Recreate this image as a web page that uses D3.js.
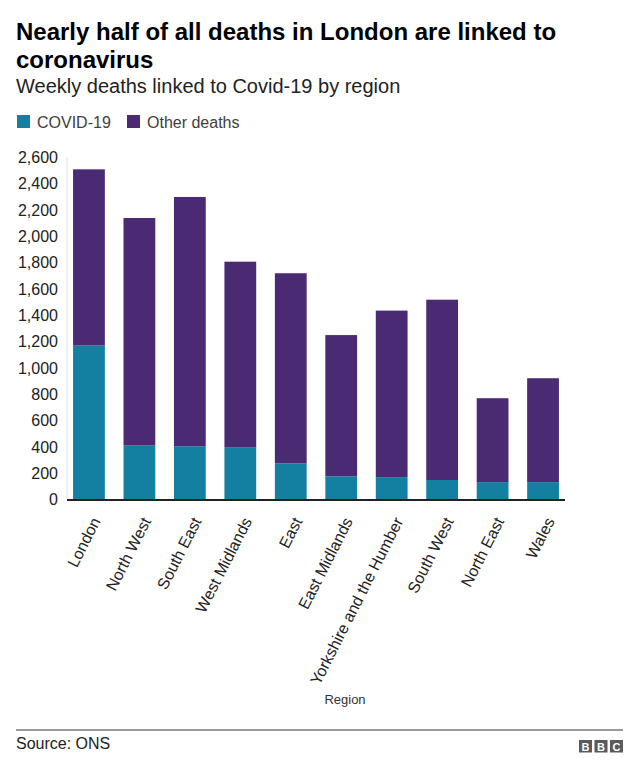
<!DOCTYPE html>
<html>
<head>
<meta charset="utf-8">
<script src="https://cdn.jsdelivr.net/npm/d3@7"></script>
<style>
  html, body { margin: 0; padding: 0; background: #fff; }
  svg { display: block; font-family: "Liberation Sans", Arial, Helvetica, sans-serif; }
</style>
</head>
<body>
<svg id="chart" width="640" height="774"></svg>
<script>
const regions = ["London", "North West", "South East", "West Midlands", "East",
  "East Midlands", "Yorkshire and the Humber", "South West", "North East", "Wales"];
const covidDeaths = [1170, 410, 405, 398, 275, 176, 170, 148, 132, 132];
const totalDeaths = [2510, 2140, 2300, 1808, 1720, 1250, 1436, 1519, 770, 922];
const otherDeaths = totalDeaths.map((t, i) => t - covidDeaths[i]);
const yTicks = [0, 200, 400, 600, 800, 1000, 1200, 1400, 1600, 1800, 2000, 2200, 2400, 2600];
const seriesNames = ["COVID-19", "Other deaths"];
const seriesKeys = ["covid", "other"];
const colors = ["#1380a1", "#4b2a74"];

const svg = d3.select("#chart");

// Title & subtitle
svg.append("text").attr("x", 16).attr("y", 40)
  .attr("font-size", 24).attr("font-weight", "bold").attr("fill", "#000")
  .text("Nearly half of all deaths in London are linked to");
svg.append("text").attr("x", 16).attr("y", 68)
  .attr("font-size", 24).attr("font-weight", "bold").attr("fill", "#000")
  .text("coronavirus");
svg.append("text").attr("x", 16).attr("y", 93)
  .attr("font-size", 20).attr("fill", "#222")
  .text("Weekly deaths linked to Covid-19 by region");

// Legend
const legendX = [17, 127];
seriesNames.forEach((name, i) => {
  svg.append("rect").attr("x", legendX[i]).attr("y", 115).attr("width", 13).attr("height", 13)
    .attr("fill", colors[i]);
  svg.append("text").attr("x", legendX[i] + 20).attr("y", 128)
    .attr("font-size", 16).attr("fill", "#404040").text(name);
});

// Scales
const x = d3.scaleBand().domain(regions).range([67, 565]).paddingInner(0.37).paddingOuter(0.12);
const y = d3.scaleLinear().domain([0, 2600]).range([499.5, 157.5]);

// Data table for stack
const table = regions.map((r, i) => ({ region: r, covid: covidDeaths[i], other: otherDeaths[i] }));
const stacked = d3.stack().keys(seriesKeys)(table);

// left faint axis line
svg.append("line").attr("x1", 67).attr("x2", 67).attr("y1", 157).attr("y2", 499)
  .attr("stroke", "#e0e0e0").attr("stroke-width", 1);

// Y axis
const yAxis = d3.axisLeft(y).tickValues(yTicks).tickSize(0).tickPadding(0)
  .tickFormat(d3.format(","));
const yg = svg.append("g").attr("transform", "translate(58,0)").call(yAxis);
yg.select(".domain").remove();
yg.selectAll("text").attr("font-size", 16).attr("fill", "#222")
  .attr("font-family", "'Liberation Sans', Arial, Helvetica, sans-serif");

// Bars
svg.append("g").selectAll("g").data(stacked).join("g")
  .attr("fill", (d, i) => colors[i])
  .selectAll("rect").data(d => d).join("rect")
  .attr("x", d => x(d.data.region))
  .attr("width", x.bandwidth())
  .attr("y", d => y(d[1]))
  .attr("height", d => y(d[0]) - y(d[1]));

// X axis
const xAxis = d3.axisBottom(x).tickSize(0).tickPadding(0);
const xg = svg.append("g").attr("transform", "translate(0,500)").call(xAxis);
xg.select(".domain").attr("stroke", "#222").attr("stroke-width", 2)
  .attr("d", "M67,0H565");
xg.selectAll("text")
  .attr("font-size", 16).attr("fill", "#222")
  .attr("font-family", "'Liberation Sans', Arial, Helvetica, sans-serif")
  .attr("text-anchor", "end")
  .attr("dy", "0")
  .attr("y", 0)
  .attr("transform", "translate(12,21) rotate(-63)");

// Axis title
svg.append("text").attr("x", 345).attr("y", 704).attr("text-anchor", "middle")
  .attr("font-size", 13).attr("fill", "#333").text("Region");

// Footer
svg.append("line").attr("x1", 16).attr("x2", 623).attr("y1", 730).attr("y2", 730)
  .attr("stroke", "#333").attr("stroke-width", 1);
svg.append("text").attr("x", 16).attr("y", 749).attr("font-size", 16).attr("fill", "#222")
  .text("Source: ONS");
const logo = svg.append("g");
["B", "B", "C"].forEach((ch, i) => {
  const bx = 579 + i * 15.5;
  logo.append("rect").attr("x", bx).attr("y", 740).attr("width", 13).attr("height", 12.5).attr("fill", "#5a5a5a");
  logo.append("text").attr("x", bx + 6.5).attr("y", 750.5).attr("text-anchor", "middle")
    .attr("font-size", 11).attr("font-weight", "bold").attr("fill", "#fff").text(ch);
});
</script>
</body>
</html>
